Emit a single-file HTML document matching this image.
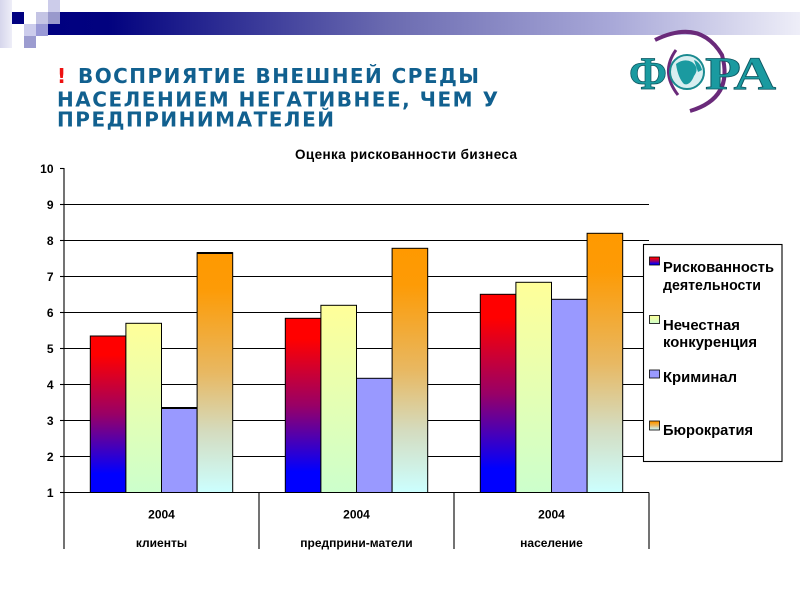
<!DOCTYPE html>
<html><head><meta charset="utf-8"><style>
html,body{margin:0;padding:0;background:#fff;}
svg{display:block;}
.ax{font-family:"Liberation Sans",Arial,sans-serif;font-weight:bold;font-size:12px;fill:#000;}
.lg{font-family:"Liberation Sans",Arial,sans-serif;font-weight:bold;font-size:14.5px;fill:#000;}
.hd{font-family:"DejaVu Sans","Liberation Sans",sans-serif;font-weight:bold;font-size:20px;fill:#11608f;}
</style></head><body>
<svg width="800" height="600" viewBox="0 0 800 600" xmlns="http://www.w3.org/2000/svg">
<defs>
<linearGradient id="bar" x1="0" y1="0" x2="1" y2="0">
<stop offset="0" stop-color="#000080"/><stop offset="0.08" stop-color="#02027f"/>
<stop offset="0.45" stop-color="#6a6ab0"/><stop offset="0.75" stop-color="#a8a8d8"/>
<stop offset="1" stop-color="#eeeef8"/></linearGradient>
<linearGradient id="col0" x1="0" y1="0" x2="1" y2="0">
<stop offset="0" stop-color="#d6d6ec"/><stop offset="1" stop-color="#eeeef8"/></linearGradient>
<linearGradient id="gR" x1="0" y1="0" x2="0" y2="1">
<stop offset="0" stop-color="#ff0000"/><stop offset="0.12" stop-color="#ff0000"/>
<stop offset="0.5" stop-color="#990066"/><stop offset="0.88" stop-color="#0000ff"/><stop offset="1" stop-color="#0000ff"/></linearGradient>
<linearGradient id="gY" x1="0" y1="0" x2="0" y2="1">
<stop offset="0" stop-color="#ffff99"/><stop offset="1" stop-color="#ccffcc"/></linearGradient>
<linearGradient id="gO" x1="0" y1="0" x2="0" y2="1">
<stop offset="0" stop-color="#ff9900"/><stop offset="0.15" stop-color="#fd9b06"/>
<stop offset="0.5" stop-color="#e8b862"/><stop offset="0.75" stop-color="#d4dcc0"/><stop offset="1" stop-color="#ccffff"/></linearGradient>
</defs>

<!-- header decoration -->
<rect x="0" y="0" width="12" height="48" fill="url(#col0)"/>
<rect x="48" y="12" width="752" height="23" fill="url(#bar)"/>
<rect x="12" y="12" width="12" height="12" fill="#000080"/>
<rect x="24" y="24" width="12" height="12" fill="#ccccec"/>
<rect x="36" y="12" width="12" height="12" fill="#c4c4e4"/>
<rect x="48" y="0" width="12" height="12" fill="#ccccea"/>
<rect x="48" y="12" width="12" height="12" fill="#9999cc"/>
<rect x="36" y="24" width="12" height="12" fill="#9999d6"/>
<rect x="24" y="36" width="12" height="12" fill="#9c9cd0"/>

<!-- heading -->
<text class="hd" x="57" y="83" style="fill:#ee1111">!</text>
<text class="hd" x="78" y="83" textLength="401" lengthAdjust="spacing">ВОСПРИЯТИЕ ВНЕШНЕЙ СРЕДЫ</text>
<text class="hd" x="57" y="106.5" textLength="441" lengthAdjust="spacing">НАСЕЛЕНИЕМ НЕГАТИВНЕЕ, ЧЕМ У</text>
<text class="hd" x="57" y="126.5" textLength="277" lengthAdjust="spacing">ПРЕДПРИНИМАТЕЛЕЙ</text>

<!-- logo -->
<path d="M655 40 Q700 18 722 55 Q734 98 690 111" stroke="#6a2a7a" stroke-width="4" fill="none"/>
<path d="M676 50 Q660 72 678 95" stroke="#6a2a7a" stroke-width="3" fill="none"/>
<circle cx="687" cy="72" r="17" fill="#d8eef0" stroke="#1a8a90" stroke-width="2"/>
<path d="M676 64 Q684 58 692 62 Q700 68 694 76 Q690 86 684 84 Q678 78 676 64Z" fill="#1a9aa0"/>
<path d="M694 60 Q700 62 702 70 L698 72Z" fill="#1a9aa0"/>
<text x="629" y="89" font-family="Liberation Serif,serif" font-weight="bold" font-size="47" fill="#1a9aa0" stroke="#0d5560" stroke-width="0.8" textLength="38" lengthAdjust="spacingAndGlyphs">Ф</text>
<text x="705" y="89" font-family="Liberation Serif,serif" font-weight="bold" font-size="47" fill="#1a9aa0" stroke="#0d5560" stroke-width="0.8" textLength="71" lengthAdjust="spacingAndGlyphs">РА</text>

<!-- chart title -->
<text class="ax" x="295" y="159" style="font-size:13.5px" textLength="222" lengthAdjust="spacing">Оценка рискованности бизнеса</text>

<!-- gridlines -->
<g stroke="#000" stroke-width="1.1">
<line x1="64" y1="204.5" x2="649" y2="204.5"/>
<line x1="64" y1="240.5" x2="649" y2="240.5"/>
<line x1="64" y1="276.5" x2="649" y2="276.5"/>
<line x1="64" y1="312.5" x2="649" y2="312.5"/>
<line x1="64" y1="348.5" x2="649" y2="348.5"/>
<line x1="64" y1="384.5" x2="649" y2="384.5"/>
<line x1="64" y1="420.5" x2="649" y2="420.5"/>
<line x1="64" y1="456.5" x2="649" y2="456.5"/>
</g>

<!-- bars -->
<g stroke="#000" stroke-width="1">
<rect x="90.3" y="336" width="35.6" height="156.5" fill="url(#gR)"/>
<rect x="125.9" y="323.3" width="35.6" height="169.2" fill="url(#gY)"/>
<rect x="161.5" y="407.7" width="35.6" height="84.8" fill="#9999ff"/>
<rect x="197.1" y="252.7" width="35.6" height="239.8" fill="url(#gO)"/>

<rect x="285.3" y="318.3" width="35.6" height="174.2" fill="url(#gR)"/>
<rect x="320.9" y="305.3" width="35.6" height="187.2" fill="url(#gY)"/>
<rect x="356.5" y="378.3" width="35.6" height="114.2" fill="#9999ff"/>
<rect x="392.1" y="248.3" width="35.6" height="244.2" fill="url(#gO)"/>

<rect x="480.3" y="294.3" width="35.6" height="198.2" fill="url(#gR)"/>
<rect x="515.9" y="282.3" width="35.6" height="210.2" fill="url(#gY)"/>
<rect x="551.5" y="299.3" width="35.6" height="193.2" fill="#9999ff"/>
<rect x="587.1" y="233.3" width="35.6" height="259.2" fill="url(#gO)"/>
</g>
<line x1="161.5" y1="408" x2="197.1" y2="408" stroke="#000" stroke-width="2"/>
<line x1="197.1" y1="253" x2="232.7" y2="253" stroke="#000" stroke-width="2"/>

<!-- axes and category box -->
<g stroke="#000" stroke-width="1.1">
<line x1="64" y1="168" x2="64" y2="549"/>
<line x1="64" y1="492.5" x2="649" y2="492.5"/>
<line x1="259" y1="492.5" x2="259" y2="549"/>
<line x1="454" y1="492.5" x2="454" y2="549"/>
<line x1="649" y1="492.5" x2="649" y2="549"/>
<line x1="60" y1="168.5" x2="64" y2="168.5"/>
<line x1="60" y1="204.5" x2="64" y2="204.5"/>
<line x1="60" y1="240.5" x2="64" y2="240.5"/>
<line x1="60" y1="276.5" x2="64" y2="276.5"/>
<line x1="60" y1="312.5" x2="64" y2="312.5"/>
<line x1="60" y1="348.5" x2="64" y2="348.5"/>
<line x1="60" y1="384.5" x2="64" y2="384.5"/>
<line x1="60" y1="420.5" x2="64" y2="420.5"/>
<line x1="60" y1="456.5" x2="64" y2="456.5"/>
<line x1="60" y1="492.5" x2="64" y2="492.5"/>
</g>

<!-- y labels -->
<g class="ax" text-anchor="end">
<text x="53.5" y="173">10</text>
<text x="53.5" y="209">9</text>
<text x="53.5" y="245">8</text>
<text x="53.5" y="281">7</text>
<text x="53.5" y="317">6</text>
<text x="53.5" y="353">5</text>
<text x="53.5" y="389">4</text>
<text x="53.5" y="425">3</text>
<text x="53.5" y="461">2</text>
<text x="53.5" y="497">1</text>
</g>

<!-- category labels -->
<g class="ax" text-anchor="middle">
<text x="161.5" y="518.5">2004</text>
<text x="356.5" y="518.5">2004</text>
<text x="551.5" y="518.5">2004</text>
<text x="161.5" y="547">клиенты</text>
<text x="356.5" y="547">предприни-матели</text>
<text x="551.5" y="547">население</text>
</g>

<!-- legend -->
<rect x="643.5" y="244.5" width="138.5" height="217" fill="#fff" stroke="#000" stroke-width="1.1"/>
<rect x="649.5" y="257" width="10" height="8" fill="url(#gR)" stroke="#000" stroke-width="0.8"/>
<rect x="649.5" y="315.5" width="10" height="8" fill="url(#gY)" stroke="#000" stroke-width="0.8"/>
<rect x="649.5" y="370" width="10" height="8" fill="#9999ff" stroke="#000" stroke-width="0.8"/>
<rect x="649.5" y="421" width="10" height="9" fill="url(#gO)" stroke="#000" stroke-width="0.8"/>
<text class="lg" x="663" y="272" textLength="111" lengthAdjust="spacingAndGlyphs">Рискованность</text>
<text class="lg" x="663" y="290" textLength="98" lengthAdjust="spacingAndGlyphs">деятельности</text>
<text class="lg" x="663" y="330" textLength="77" lengthAdjust="spacingAndGlyphs">Нечестная</text>
<text class="lg" x="663" y="347" textLength="94" lengthAdjust="spacingAndGlyphs">конкуренция</text>
<text class="lg" x="663" y="382" textLength="74" lengthAdjust="spacingAndGlyphs">Криминал</text>
<text class="lg" x="663" y="435" textLength="90" lengthAdjust="spacingAndGlyphs">Бюрократия</text>
</svg>
</body></html>
